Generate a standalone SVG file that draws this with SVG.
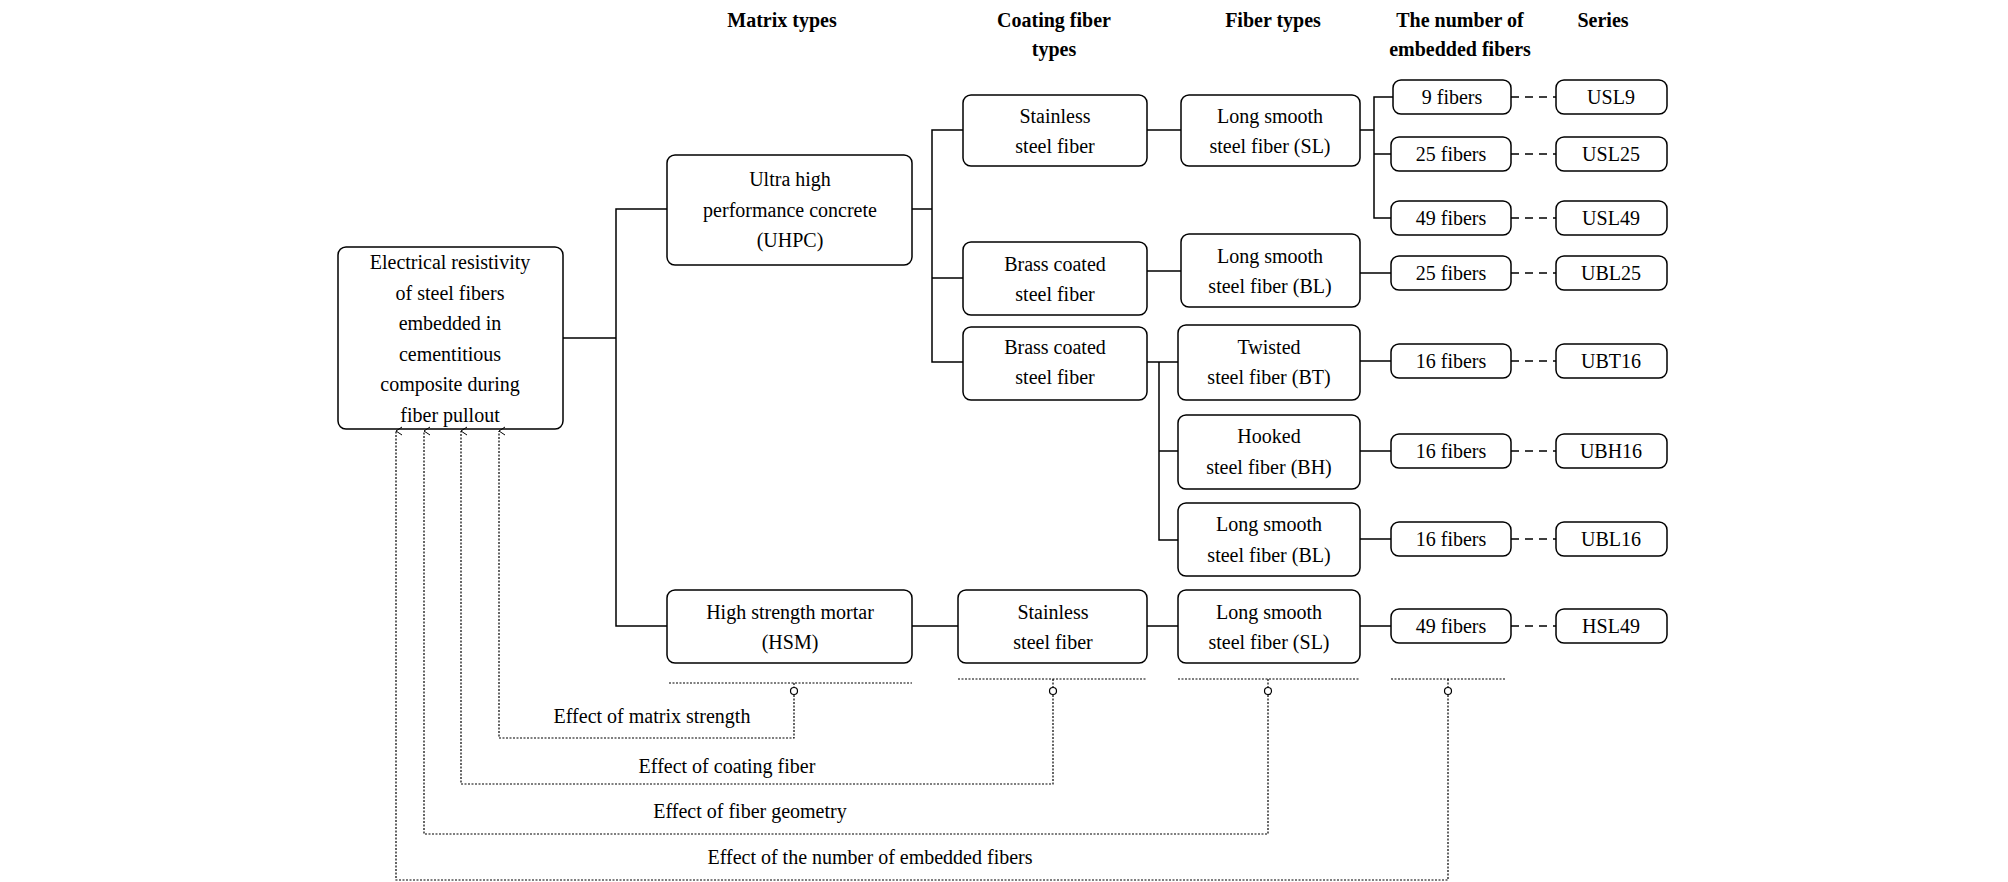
<svg xmlns="http://www.w3.org/2000/svg" width="2008" height="882" viewBox="0 0 2008 882">
<style>
text{font-family:"Liberation Serif","Times New Roman",serif;font-size:20px;fill:#000;text-anchor:middle;dominant-baseline:central}
.h{font-weight:bold;font-size:20px}
rect{fill:#fff;stroke:#000;stroke-width:1.5}
.c path{fill:none;stroke:#000;stroke-width:1.5}
.c .d{stroke-dasharray:8 6}
.e path{fill:none;stroke:#000;stroke-width:1.2;stroke-dasharray:2 1.5}
.e circle{fill:#fff;stroke:#000;stroke-width:1.2}
</style>
<defs><marker id="ar" viewBox="0 0 10 10" refX="5" refY="1" markerWidth="10" markerHeight="10" orient="auto-start-reverse" markerUnits="userSpaceOnUse"><path d="M1 7 L5 1 L9 7" fill="none" stroke="#000" stroke-width="1"/></marker></defs>
<g id="headers">
<text class="h" x="782" y="20">Matrix types</text>
<text class="h" x="1054" y="20">Coating fiber</text><text class="h" x="1054" y="49">types</text>
<text class="h" x="1273" y="20">Fiber types</text>
<text class="h" x="1460" y="20">The number of</text><text class="h" x="1460" y="49">embedded fibers</text>
<text class="h" x="1603" y="20">Series</text>
</g>
<g class="c" id="connectors">
<path d="M563 338H616M667 209H616V626H667"/>
<path d="M912 209H932M963 130H932V362H963M932 278H963"/>
<path d="M1147 130H1181M1147 271H1181M1147 362H1159M1178 362H1159V540H1178M1159 451H1178"/>
<path d="M1360 130H1374M1393 97H1374V218H1393M1374 154H1393"/>
<path d="M1360 273H1391M1360 361H1391M1360 451H1391M1360 539H1391M1360 626H1391"/>
<path d="M912 626H958M1147 626H1178"/>
<path class="d" d="M1511 97H1556M1511 154H1556M1511 218H1556M1511 273H1556M1511 361H1556M1511 451H1556M1511 539H1556M1511 626H1556"/>
</g>
<g id="root"><rect x="338" y="247" width="225" height="182" rx="8"/>
<text x="450" y="262">Electrical resistivity</text><text x="450" y="293">of steel fibers</text><text x="450" y="323">embedded in</text><text x="450" y="354">cementitious</text><text x="450" y="384">composite during</text><text x="450" y="415">fiber pullout</text></g>
<g id="uhpc"><rect x="667" y="155" width="245" height="110" rx="8"/><text x="790" y="179">Ultra high</text><text x="790" y="210">performance concrete</text><text x="790" y="240">(UHPC)</text></g>
<g id="hsm"><rect x="667" y="590" width="245" height="73" rx="8"/><text x="790" y="612">High strength mortar</text><text x="790" y="642">(HSM)</text></g>
<g id="c1"><rect x="963" y="95" width="184" height="71" rx="8"/><text x="1055" y="116">Stainless</text><text x="1055" y="146">steel fiber</text></g>
<g id="c2"><rect x="963" y="242" width="184" height="73" rx="8"/><text x="1055" y="264">Brass coated</text><text x="1055" y="294">steel fiber</text></g>
<g id="c3"><rect x="963" y="327" width="184" height="73" rx="8"/><text x="1055" y="347">Brass coated</text><text x="1055" y="377">steel fiber</text></g>
<g id="c4"><rect x="958" y="590" width="189" height="73" rx="8"/><text x="1053" y="612">Stainless</text><text x="1053" y="642">steel fiber</text></g>
<g id="f1"><rect x="1181" y="95" width="179" height="71" rx="8"/><text x="1270" y="116">Long smooth</text><text x="1270" y="146">steel fiber (SL)</text></g>
<g id="f2"><rect x="1181" y="234" width="179" height="73" rx="8"/><text x="1270" y="256">Long smooth</text><text x="1270" y="286">steel fiber (BL)</text></g>
<g id="f3"><rect x="1178" y="325" width="182" height="75" rx="8"/><text x="1269" y="347">Twisted</text><text x="1269" y="377">steel fiber (BT)</text></g>
<g id="f4"><rect x="1178" y="415" width="182" height="74" rx="8"/><text x="1269" y="436">Hooked</text><text x="1269" y="467">steel fiber (BH)</text></g>
<g id="f5"><rect x="1178" y="503" width="182" height="73" rx="8"/><text x="1269" y="524">Long smooth</text><text x="1269" y="555">steel fiber (BL)</text></g>
<g id="f6"><rect x="1178" y="590" width="182" height="73" rx="8"/><text x="1269" y="612">Long smooth</text><text x="1269" y="642">steel fiber (SL)</text></g>
<g id="n1"><rect x="1393" y="80" width="118" height="34" rx="8"/><text x="1452" y="97">9 fibers</text></g>
<g id="n2"><rect x="1391" y="137" width="120" height="34" rx="8"/><text x="1451" y="154">25 fibers</text></g>
<g id="n3"><rect x="1391" y="201" width="120" height="34" rx="8"/><text x="1451" y="218">49 fibers</text></g>
<g id="n4"><rect x="1391" y="256" width="120" height="34" rx="8"/><text x="1451" y="273">25 fibers</text></g>
<g id="n5"><rect x="1391" y="344" width="120" height="34" rx="8"/><text x="1451" y="361">16 fibers</text></g>
<g id="n6"><rect x="1391" y="434" width="120" height="34" rx="8"/><text x="1451" y="451">16 fibers</text></g>
<g id="n7"><rect x="1391" y="522" width="120" height="34" rx="8"/><text x="1451" y="539">16 fibers</text></g>
<g id="n8"><rect x="1391" y="609" width="120" height="34" rx="8"/><text x="1451" y="626">49 fibers</text></g>
<g id="s1"><rect x="1556" y="80" width="111" height="34" rx="8"/><text x="1611" y="97">USL9</text></g>
<g id="s2"><rect x="1556" y="137" width="111" height="34" rx="8"/><text x="1611" y="154">USL25</text></g>
<g id="s3"><rect x="1556" y="201" width="111" height="34" rx="8"/><text x="1611" y="218">USL49</text></g>
<g id="s4"><rect x="1556" y="256" width="111" height="34" rx="8"/><text x="1611" y="273">UBL25</text></g>
<g id="s5"><rect x="1556" y="344" width="111" height="34" rx="8"/><text x="1611" y="361">UBT16</text></g>
<g id="s6"><rect x="1556" y="434" width="111" height="34" rx="8"/><text x="1611" y="451">UBH16</text></g>
<g id="s7"><rect x="1556" y="522" width="111" height="34" rx="8"/><text x="1611" y="539">UBL16</text></g>
<g id="s8"><rect x="1556" y="609" width="111" height="34" rx="8"/><text x="1611" y="626">HSL49</text></g>
<g class="e" id="effects">
<path d="M669 683H912M958 679H1147M1178 679H1360M1391 679H1506"/>
<path d="M794 695V738H499V431" marker-end="url(#ar)"/>
<path d="M1053 695V784H461V431" marker-end="url(#ar)"/>
<path d="M1268 695V834H424V431" marker-end="url(#ar)"/>
<path d="M1448 695V880H396V431" marker-end="url(#ar)"/>
<path d="M794 683V687M1053 679V687M1268 679V687M1448 679V687"/>
<circle cx="794" cy="691" r="3.5"/><circle cx="1053" cy="691" r="3.5"/><circle cx="1268" cy="691" r="3.5"/><circle cx="1448" cy="691" r="3.5"/>
</g>
<g id="labels">
<text x="652" y="716">Effect of matrix strength</text>
<text x="727" y="766">Effect of coating fiber</text>
<text x="750" y="811">Effect of fiber geometry</text>
<text x="870" y="857">Effect of the number of embedded fibers</text>
</g>
</svg>
